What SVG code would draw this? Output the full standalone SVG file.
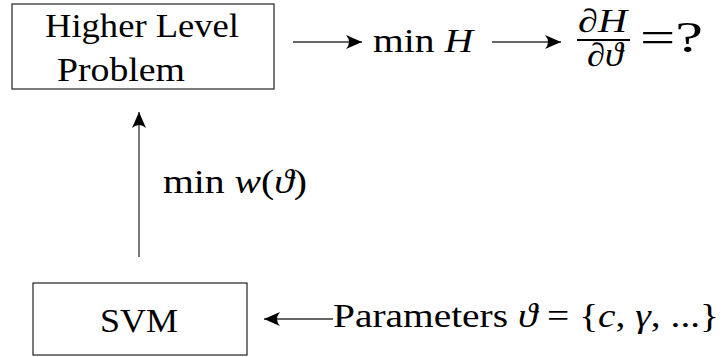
<svg xmlns="http://www.w3.org/2000/svg" width="727" height="357" viewBox="0 0 727 357">
<style>
.box{fill:#fff;stroke:#333;stroke-width:1.3}
.t{font-family:"Liberation Serif","DejaVu Serif",serif;font-size:33px;fill:#000}
.i{font-style:italic}
.c{stroke:#333;stroke-width:1.3;fill:none;marker-end:url(#ah)}
</style>
<defs>
<marker id="ah" viewBox="-18 -9 19 18" markerWidth="19" markerHeight="18" refX="0" refY="0" orient="auto" markerUnits="userSpaceOnUse">
<path d="M0,0 L-16,-7 Q-10,0 -16,7 Z" fill="#000"/>
</marker>
</defs>
<rect width="727" height="357" fill="#fff"/>
<g id="higher-level">
<rect class="box" x="12" y="4" width="262" height="85"/>
<text class="t" x="45" y="37" textLength="194" lengthAdjust="spacingAndGlyphs">Higher Level</text>
<text class="t" x="57" y="81" textLength="128" lengthAdjust="spacingAndGlyphs">Problem</text>
</g>
<g id="svm">
<rect class="box" x="33" y="283" width="214" height="72"/>
<text class="t" x="100" y="332" textLength="78" lengthAdjust="spacingAndGlyphs">SVM</text>
</g>
<g id="connectors">
<line class="c" x1="293" y1="42" x2="362" y2="42"/>
<line class="c" x1="492" y1="42" x2="561" y2="42"/>
<line class="c" x1="139" y1="257" x2="139" y2="112"/>
<line class="c" x1="333" y1="319" x2="264" y2="319"/>
</g>
<g id="labels">
<text class="t" x="373" y="52" textLength="100" lengthAdjust="spacingAndGlyphs">min <tspan class="i">H</tspan></text>
<text class="t" x="578" y="32" textLength="49" lengthAdjust="spacingAndGlyphs">∂<tspan class="i">H</tspan></text>
<line x1="577" y1="40" x2="630" y2="40" stroke="#000" stroke-width="2.2"/>
<text class="t" x="587" y="66" textLength="36" lengthAdjust="spacingAndGlyphs">∂<tspan class="i">ϑ</tspan></text>
<text class="t" x="640" y="52" style="font-size:44px" textLength="63" lengthAdjust="spacingAndGlyphs">=?</text>
<text class="t" x="163" y="193" textLength="144" lengthAdjust="spacingAndGlyphs">min <tspan class="i">w</tspan>(<tspan class="i">ϑ</tspan>)</text>
<text class="t" x="333" y="327" textLength="386" lengthAdjust="spacingAndGlyphs">Parameters <tspan class="i">ϑ</tspan> = {<tspan class="i">c</tspan>, <tspan class="i">γ</tspan>, ...}</text>
</g>
</svg>
